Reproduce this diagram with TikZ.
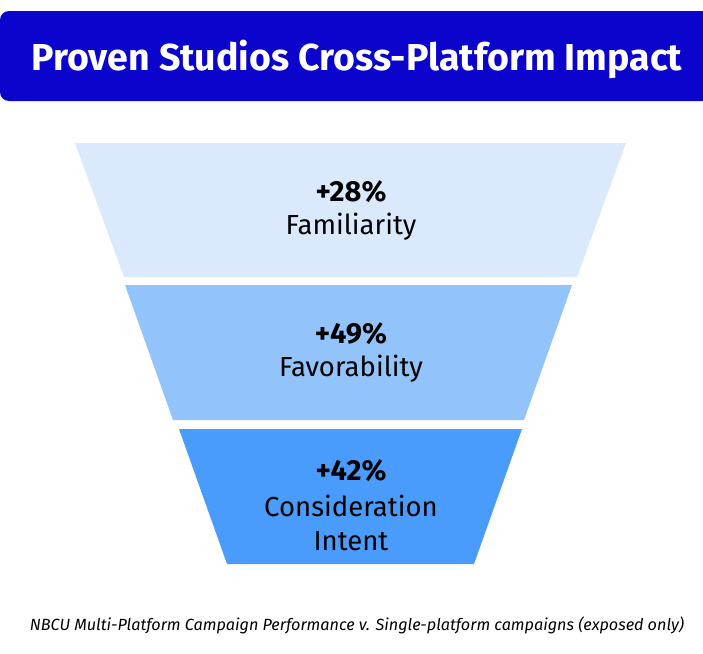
\documentclass[tikz,border=0pt]{standalone}
\usepackage{fontspec}
\setmainfont{Fira Sans}
\usetikzlibrary{positioning}

\definecolor{titleblue}{RGB}{10,4,204}
\definecolor{bandone}{RGB}{218,233,252}
\definecolor{bandtwo}{RGB}{147,195,251}
\definecolor{bandthree}{RGB}{74,156,252}

\begin{document}
\begin{tikzpicture} [
                x=1pt, y=-1pt,
                titlenode/.style={
                    text=white,
                    font=\fontsize{37.5}{40}\selectfont\bfseries
                },
                pctnode/.style={
                    text=black,
                    font=\fontsize{29}{32}\selectfont\bfseries
                },
                lblnode/.style={
                    text=black,
                    align=center,
                    font=\fontsize{27.5}{34}\selectfont
                },
                notenode/.style={
                    text=black,
                    font=\fontsize{16.2}{18}\selectfont\itshape
                }
            ]

                \useasboundingbox (0,0) rectangle (703,653);

                % title bar
                \fill[titleblue, rounded corners=9pt] (0,11) rectangle (720,101);
                \node[titlenode]    (title)     at (357,59)     {Proven Studios Cross-Platform Impact};

                % funnel bands
                \fill[bandone]      (75,143)  -- (626,143) -- (577,277) -- (124,277) -- cycle;
                \fill[bandtwo]      (125,285) -- (572,285) -- (524,420) -- (173,420) -- cycle;
                \fill[bandthree]    (179,429) -- (522,429) -- (474,564) -- (227,564) -- cycle;

                \node[pctnode]      (pct1)      at (351,192)    {+28\%};
                \node[lblnode]      (lbl1)      at (351,227)    {Familiarity};
                \node[pctnode]      (pct2)      at (351,334)    {+49\%};
                \node[lblnode]      (lbl2)      at (351,369)    {Favorability};
                \node[pctnode]      (pct3)      at (351,471)    {+42\%};
                \node[lblnode]      (lbl3)      at (351,523)    {Consideration\\Intent};

                % source
                \node[notenode]     (note)      at (357,625)    {NBCU Multi-Platform Campaign Performance v. Single-platform campaigns (exposed only)};

            \end{tikzpicture}
\end{document}
